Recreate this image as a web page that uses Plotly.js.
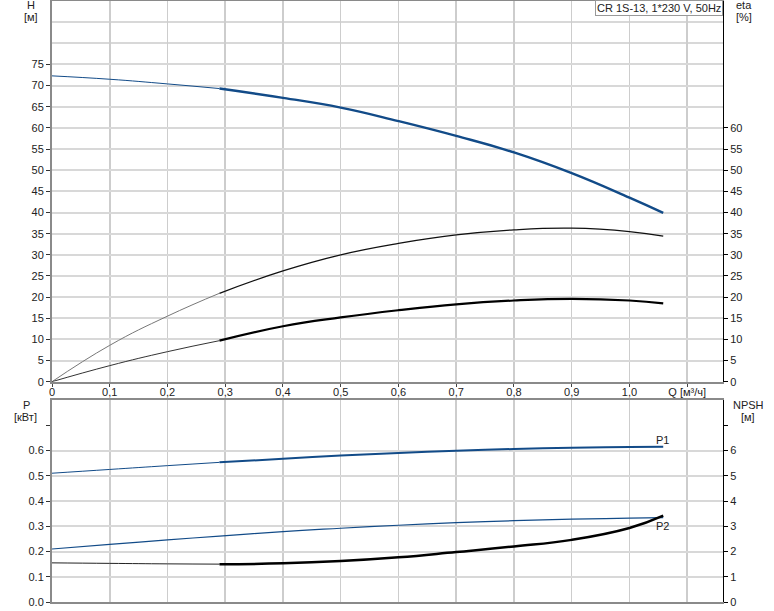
<!DOCTYPE html>
<html>
<head>
<meta charset="utf-8">
<script src="https://cdn.plot.ly/plotly-3.0.1.min.js"></script>
<style>
  html, body { margin: 0; padding: 0; background: #fff; }
  #chart { width: 774px; height: 611px; }
</style>
</head>
<body>
<div id="chart"></div>
<script>
// ---- data ----
const Q      = [0, 0.1, 0.2, 0.29, 0.4, 0.5, 0.6, 0.7, 0.8, 0.9, 1.0, 1.0585];
const H      = [72.3, 71.5, 70.4, 69.3, 67.1, 64.8, 61.6, 58.1, 54.2, 49.3, 43.5, 39.9];
const ETA_P  = [0, 8.6, 15.5, 20.9, 26.2, 30.0, 32.7, 34.7, 35.9, 36.3, 35.5, 34.4];
const ETA_T  = [0, 3.8, 7.1, 9.7, 13.1, 15.2, 16.9, 18.3, 19.2, 19.6, 19.2, 18.5];
const P1     = [0.51, 0.525, 0.54, 0.553, 0.567, 0.58, 0.59, 0.599, 0.606, 0.611, 0.614, 0.615];
const P2     = [0.21, 0.228, 0.246, 0.261, 0.279, 0.292, 0.304, 0.314, 0.322, 0.328, 0.332, 0.334];
const NPSH   = [1.55, 1.53, 1.51, 1.50, 1.53, 1.62, 1.77, 1.98, 2.2, 2.46, 2.93, 3.42];

const Q_TICKS      = [0, 0.1, 0.2, 0.3, 0.4, 0.5, 0.6, 0.7, 0.8, 0.9, 1.0, 1.1];
const Q_TICKTEXT   = ['0', '0,1', '0,2', '0,3', '0,4', '0,5', '0,6', '0,7', '0,8', '0,9', '1,0', 'Q [м³/ч]'];
const H_TICKS      = [0, 5, 10, 15, 20, 25, 30, 35, 40, 45, 50, 55, 60, 65, 70, 75];
const H_EXTRA_GRID = [80, 85];
const ETA_TICKS    = [0, 5, 10, 15, 20, 25, 30, 35, 40, 45, 50, 55, 60];
const P_TICKS      = [0, 0.1, 0.2, 0.3, 0.4, 0.5, 0.6];
const P_TICKTEXT   = ['0.0', '0.1', '0.2', '0.3', '0.4', '0.5', '0.6'];
const NPSH_TICKS   = [0, 1, 2, 3, 4, 5, 6];
const SPLIT = 3; // index where the operating range begins (Q = 0.29)

// ---- styling ----
const FONT = { family: 'Liberation Sans, Arial, sans-serif', size: 11, color: '#222' };
const BLUE = '#124b88';
const GRID_X = '#cdcdcd';
const GRID_Y = '#d8d8d8';
const AX_GRAY = '#8a8a8a';

function seg(y, from, to, axX, axY, color, width) {
  return {
    x: Q.slice(from, to), y: y.slice(from, to), xaxis: axX, yaxis: axY,
    mode: 'lines', line: { color: color, width: width, shape: 'spline', smoothing: 1.3 },
    hoverinfo: 'skip', showlegend: false
  };
}

const traces = [
  seg(H, 0, SPLIT + 1, 'x', 'y', BLUE, 1),
  seg(H, SPLIT, Q.length, 'x', 'y', BLUE, 2.4),
  seg(ETA_P, 0, SPLIT + 1, 'x', 'y2', '#777', 1),
  seg(ETA_P, SPLIT, Q.length, 'x', 'y2', '#111', 1.3),
  seg(ETA_T, 0, SPLIT + 1, 'x', 'y2', '#333', 1),
  seg(ETA_T, SPLIT, Q.length, 'x', 'y2', '#000', 2.2),
  seg(P1, 0, SPLIT + 1, 'x2', 'y3', BLUE, 1),
  seg(P1, SPLIT, Q.length, 'x2', 'y3', BLUE, 2),
  seg(P2, 0, Q.length, 'x2', 'y3', BLUE, 1.2),
  seg(NPSH, 0, SPLIT + 1, 'x2', 'y4', '#222', 1),
  seg(NPSH, SPLIT, Q.length, 'x2', 'y4', '#000', 2.5)
];

function px2paperY(p) { return (602 - p) / 601; }
function px2paperX(p) { return (p - 52) / 671; }

function label(text, xp, yp, extra) {
  return Object.assign({
    text: text, xref: 'paper', yref: 'paper', x: px2paperX(xp), y: px2paperY(yp),
    xanchor: 'center', yanchor: 'middle', showarrow: false, font: FONT
  }, extra || {});
}

const layout = {
  width: 774, height: 611,
  margin: { l: 52, r: 51, t: 1, b: 9 },
  paper_bgcolor: '#fff', plot_bgcolor: '#fff',
  font: FONT,
  showlegend: false,
  xaxis: {
    domain: [0, 1], anchor: 'y', range: [0, 1.162],
    tickmode: 'array', tickvals: Q_TICKS, ticktext: Q_TICKTEXT,
    ticks: 'outside', ticklen: 3, tickcolor: '#444', ticklabelstandoff: -4,
    showgrid: true, gridcolor: GRID_X, gridwidth: 1.5,
    showline: true, linecolor: AX_GRAY, linewidth: 2, mirror: true,
    zeroline: false, tickfont: FONT
  },
  yaxis: {
    domain: [px2paperY(381.7), 1], anchor: 'x', range: [0, 90],
    tickmode: 'array', tickvals: H_TICKS,
    ticks: 'outside', ticklen: 4, tickcolor: '#333',
    showgrid: true, gridcolor: GRID_Y, gridwidth: 2,
    minor: { tickmode: 'array', tickvals: H_EXTRA_GRID, ticks: '', showgrid: true, gridcolor: GRID_Y, gridwidth: 2 },
    showline: true, linecolor: AX_GRAY, linewidth: 2,
    zeroline: false, tickfont: FONT
  },
  yaxis2: {
    overlaying: 'y', side: 'right', anchor: 'x', range: [0, 90],
    tickmode: 'array', tickvals: ETA_TICKS,
    ticks: 'outside', ticklen: 4, tickcolor: '#000',
    showgrid: false, showline: true, linecolor: '#000', linewidth: 1,
    zeroline: false, tickfont: FONT
  },
  xaxis2: {
    domain: [0, 1], anchor: 'y3', range: [0, 1.162],
    tickmode: 'array', tickvals: Q_TICKS, showticklabels: false, ticks: '',
    showgrid: true, gridcolor: GRID_X, gridwidth: 1.5,
    showline: true, linecolor: AX_GRAY, linewidth: 2, mirror: true,
    zeroline: false
  },
  yaxis3: {
    domain: [0, px2paperY(400)], anchor: 'x2', range: [0, 0.8],
    tickmode: 'array', tickvals: P_TICKS, ticktext: P_TICKTEXT,
    ticks: 'outside', ticklen: 4, tickcolor: '#333',
    minor: { tickmode: 'array', tickvals: [0.7], ticks: 'outside', ticklen: 4, tickcolor: '#333', showgrid: false },
    showgrid: true, gridcolor: GRID_Y, gridwidth: 2,
    showline: true, linecolor: AX_GRAY, linewidth: 2,
    zeroline: false, tickfont: FONT
  },
  yaxis4: {
    overlaying: 'y3', side: 'right', anchor: 'x2', range: [0, 8],
    tickmode: 'array', tickvals: NPSH_TICKS,
    ticks: 'outside', ticklen: 4, tickcolor: '#000',
    minor: { tickmode: 'array', tickvals: [7], ticks: 'outside', ticklen: 4, tickcolor: '#000', showgrid: false },
    showgrid: false, showline: true, linecolor: '#000', linewidth: 1,
    zeroline: false, tickfont: FONT
  },
  annotations: [
    label('H', 31, 5),
    label('[м]', 31, 17),
    label('eta', 744, 5),
    label('[%]', 744, 17),
    label('P', 26, 405),
    label('[кВт]', 25, 417),
    label('NPSH', 748, 405),
    label('[м]', 748, 417),
    label('P1', 662, 440),
    label('P2', 662, 526),
    {
      text: 'CR 1S-13, 1*230 V, 50Hz', xref: 'paper', yref: 'paper',
      x: 1, y: px2paperY(0), xanchor: 'right', yanchor: 'top', showarrow: false,
      font: FONT, bgcolor: '#fff', bordercolor: '#999', borderwidth: 1, borderpad: 1
    }
  ]
};

Plotly.newPlot('chart', traces, layout, { staticPlot: true, displayModeBar: false });
</script>
</body>
</html>
